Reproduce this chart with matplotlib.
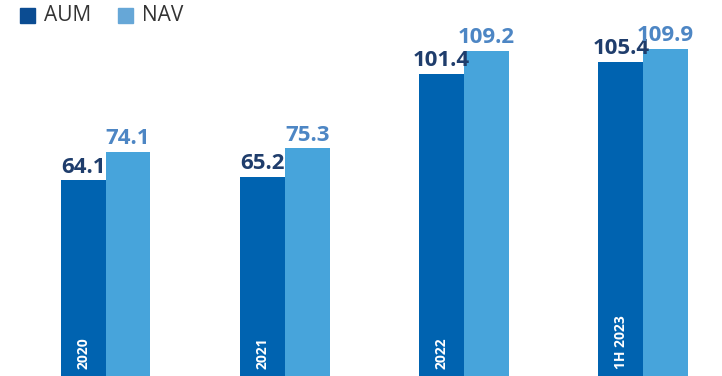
import matplotlib

matplotlib.use("Agg")
import matplotlib.pyplot as plt  # noqa: E402
import numpy as np  # noqa: E402
from matplotlib.patches import Rectangle  # noqa: E402

categories = ["2020", "2021", "2022", "1H 2023"]
aum = [64.1, 65.2, 101.4, 105.4]
nav = [74.1, 75.3, 109.2, 109.9]
series_names = ["AUM", "NAV"]

AUM_COLOR = "#0063B0"
NAV_COLOR = "#47A4DB"
AUM_TEXT = "#1F3D6C"
NAV_TEXT = "#4D86C4"
FONT = ["Open Sans", "DejaVu Sans"]

plt.rcParams["font.family"] = FONT

fig = plt.figure(figsize=(7.22, 3.76), dpi=100)
ax = fig.add_axes([0, 0, 1, 1])
ax.set_axis_off()

ymin, ymax = -4.2, 127.1
ax.set_xlim(-0.59, 3.44)
ax.set_ylim(ymin, ymax)

x = np.arange(len(categories))
w = 0.25

aum_vals = np.array(aum)
nav_vals = np.array(nav)
ax.bar(x - w / 2, aum_vals - ymin, bottom=ymin, width=w, color=AUM_COLOR)
ax.bar(x + w / 2, nav_vals - ymin, bottom=ymin, width=w, color=NAV_COLOR)

for xi, v in zip(x, aum_vals):
    ax.annotate(f"{v:.1f}", (xi - w / 2, v), xytext=(0, 2), textcoords="offset points",
                ha="center", va="bottom", fontsize=16, fontweight="bold", color=AUM_TEXT)
for xi, v in zip(x, nav_vals):
    ax.annotate(f"{v:.1f}", (xi + w / 2, v), xytext=(0, 2), textcoords="offset points",
                ha="center", va="bottom", fontsize=16, fontweight="bold", color=NAV_TEXT)

# category names sit vertically inside the AUM bars
for xi, cat in zip(x, categories):
    ax.annotate(cat, (xi - w / 2, ymin), xytext=(0, 5), textcoords="offset points",
                ha="center", va="bottom", rotation=90, fontsize=10,
                fontweight="bold", color="white")

# legend drawn by hand in figure pixels
legend_items = [(series_names[0], "#0B4C92", 20), (series_names[1], "#66A7D7", 118)]
for name, col, px in legend_items:
    fig.add_artist(Rectangle((px / 722, 1 - 23 / 376), 15 / 722, 15 / 376,
                             transform=fig.transFigure, color=col))
    fig.text((px + 24) / 722, 1 - 15.5 / 376, name, ha="left", va="center",
             fontsize=15, color="#333333")

fig.savefig("out.png", dpi=100)
